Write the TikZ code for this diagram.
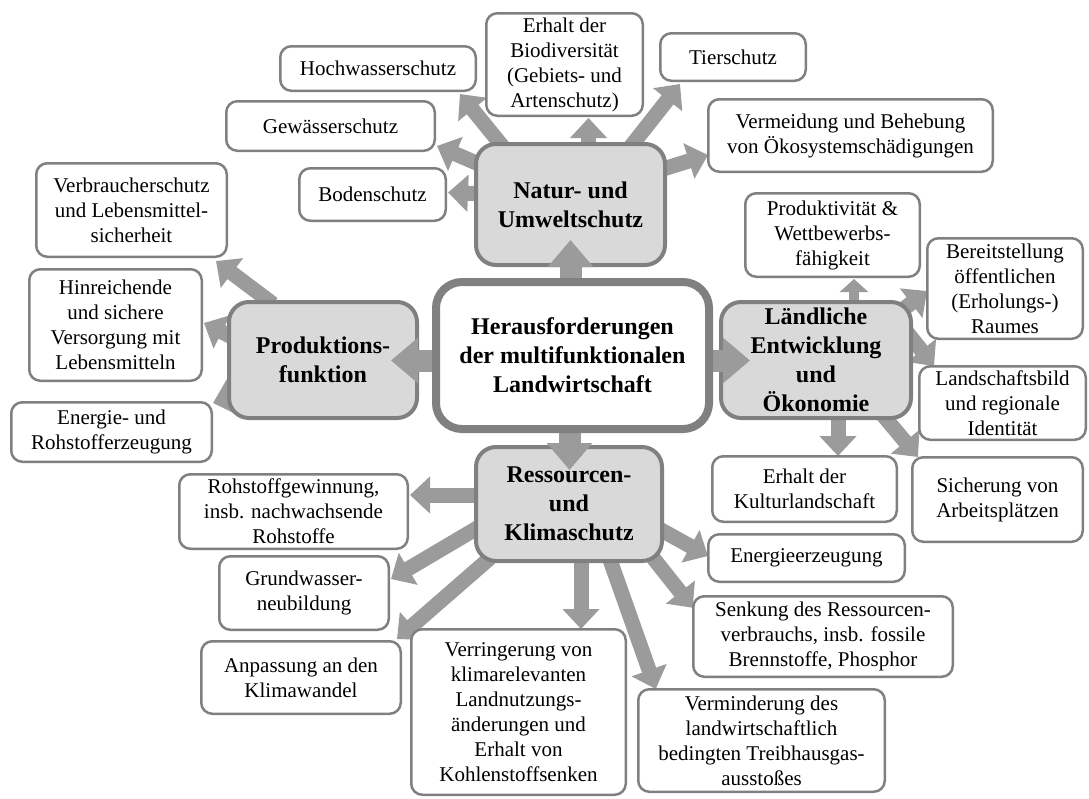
\documentclass[tikz,border=0pt]{standalone}
\usepackage{fontspec}
\setmainfont{Liberation Serif}
\usetikzlibrary{arrows.meta, calc, positioning}

\definecolor{boxline}{RGB}{128,128,128}
\definecolor{hubfill}{RGB}{217,217,217}
\definecolor{arrowfill}{RGB}{155,155,155}

\pgfdeclarelayer{backarrows}
\pgfdeclarelayer{hubs}
\pgfdeclarelayer{frontarrows}
\pgfsetlayers{backarrows,hubs,frontarrows,main}

\tikzset{
  item/.style={draw=boxline, line width=2.5pt, rounded corners=11pt, fill=white, align=center, inner sep=0pt, font=\fontsize{21}{25}\selectfont},
  hub/.style={draw=boxline, line width=4pt, rounded corners=20pt, fill=hubfill, align=center, inner sep=0pt, font=\fontsize{24}{29}\selectfont\bfseries},
  core/.style={hub, line width=8pt, rounded corners=26pt, fill=white},
  fatarrow/.style={draw=arrowfill, line width=15pt, -{Triangle[length=20pt,width=36pt]}},
  smallarrow/.style={draw=arrowfill, line width=10pt, -{Triangle[length=13pt,width=28pt]}},
  bigarrow/.style={draw=arrowfill, line width=22pt, -{Triangle[length=27pt,width=44pt]}}
}

\begin{document}
\begin{tikzpicture}[x=1pt, y=-1pt]
    \useasboundingbox (0,0) rectangle (1089,798);

    % centre and the four fields
    \node[core, minimum width=273, minimum height=147] (core) at (572.5, 355.5) {Herausforderungen\\der multifunktionalen\\Landwirtschaft};
    \begin{pgfonlayer}{hubs}
        \node[hub, minimum width=189, minimum height=121] (natur) at (570.5, 204.5) {Natur- und\\Umweltschutz};
        \node[hub, minimum width=188, minimum height=116] (produktion) at (323, 360) {Produktions-\\funktion};
        \node[hub, minimum width=190, minimum height=116] (laendlich) at (816, 360) {Ländliche\\Entwicklung\\und\\Ökonomie};
        \node[hub, minimum width=186, minimum height=114] (ressourcen) at (569, 504) {Ressourcen-\\und\\Klimaschutz};
    \end{pgfonlayer}

    % Natur- und Umweltschutz
    \node[item, minimum width=195.5, minimum height=44.5] (hoch) at (378, 68.5) {Hochwasserschutz};
    \node[item, minimum width=156.5, minimum height=102.5] (bio) at (564.5, 64.5) {Erhalt der\\Biodiversität\\(Gebiets- und\\Artenschutz)};
    \node[item, minimum width=145.5, minimum height=47.5] (tier) at (733, 57) {Tierschutz};
    \node[item, minimum width=208.5, minimum height=49.5] (gew) at (330.5, 126) {Gewässerschutz};
    \node[item, minimum width=284.5, minimum height=72.5] (oeko) at (850.5, 135.5) {Vermeidung und Behebung\\von Ökosystemschädigungen};
    \node[item, minimum width=146.5, minimum height=52.5] (boden) at (372.5, 194.5) {Bodenschutz};

    % Produktionsfunktion
    \node[item, minimum width=190.5, minimum height=93.5] (verb) at (131.5, 210) {Verbraucherschutz\\und Lebensmittel-\\sicherheit};
    \node[item, minimum width=172.5, minimum height=111.5] (vers) at (115.5, 325) {Hinreichende\\und sichere\\Versorgung mit\\Lebensmitteln};
    \node[item, minimum width=200.5, minimum height=59.5] (energie) at (111.5, 432) {Energie- und\\Rohstofferzeugung};

    % Ländliche Entwicklung und Ökonomie
    \node[item, minimum width=174.5, minimum height=83.5] (prod) at (832.5, 235) {Produktivität \&\\Wettbewerbs-\\fähigkeit};
    \node[item, minimum width=155.5, minimum height=100.5] (raum) at (1005, 288.5) {Bereitstellung\\öffentlichen\\(Erholungs-)\\Raumes};
    \node[item, minimum width=166.5, minimum height=73.5] (land) at (1002.5, 403) {Landschaftsbild\\und regionale\\Identität};
    \node[item, minimum width=184.5, minimum height=65.5] (kultur) at (804.5, 489) {Erhalt der\\Kulturlandschaft};
    \node[item, minimum width=170.5, minimum height=84.5] (arbeit) at (997.5, 499.5) {Sicherung von\\Arbeitsplätzen};

    % Ressourcen- und Klimaschutz
    \node[item, minimum width=228.5, minimum height=74.5] (rohst) at (293.5, 511.5) {Rohstoffgewinnung,\\insb. nachwachsende\\Rohstoffe};
    \node[item, minimum width=169.5, minimum height=73.5] (grund) at (304, 593) {Grundwasser-\\neubildung};
    \node[item, minimum width=196.5, minimum height=47.5] (eerz) at (806.5, 558) {Energieerzeugung};
    \node[item, minimum width=199.5, minimum height=72.5] (anpass) at (301, 677.5) {Anpassung an den\\Klimawandel};
    \node[item, minimum width=214.5, minimum height=165.5] (verr) at (518.5, 712) {Verringerung von\\klimarelevanten\\Landnutzungs-\\änderungen und\\Erhalt von\\Kohlenstoffsenken};
    \node[item, minimum width=259.5, minimum height=80.5] (senk) at (823, 636.5) {Senkung des Ressourcen-\\verbrauchs, insb. fossile\\Brennstoffe, Phosphor};
    \node[item, minimum width=246.5, minimum height=102.5] (vermin) at (761.5, 740.5) {Verminderung des\\landwirtschaftlich\\bedingten Treibhausgas-\\ausstoßes};

    % arrows from the centre
    \begin{pgfonlayer}{frontarrows}
        \draw[bigarrow] ($(core.north)+(-2,6)$) -- ($(natur.south)+(0,-27)$);
        \draw[bigarrow] ($(core.west)+(6,5)$) -- ($(produktion.east)+(-28,0.5)$);
        \draw[bigarrow] ($(core.east)+(-6,5)$) -- ($(laendlich.west)+(31,0.5)$);
        \draw[bigarrow] ($(core.south)+(-3,-6)$) -- ($(ressourcen.north)+(0.5,25)$);
    \end{pgfonlayer}

    % arrows from the fields
    \begin{pgfonlayer}{backarrows}
        \draw[fatarrow] ($(natur.north west)+(38,16)$) -- ($(hoch.south east)+(-17,2)$);
        \draw[fatarrow] ($(natur.west)+(14,-36.5)$) -- ($(gew.east)+(1,20)$);
        \draw[fatarrow] ($(natur.west)+(14,-10.5)$) -- ($(boden.east)+(1,-2)$);
        \draw[fatarrow] ($(natur.north)+(18,6)$) -- ($(bio.south)+(24,1)$);
        \draw[fatarrow] ($(natur.north east)+(-39,8)$) -- ($(tier.south west)+(21,2)$);
        \draw[fatarrow] ($(natur.east)+(-7,-34.5)$) -- ($(oeko.west)+(1,19.5)$);

        \draw[fatarrow] ($(produktion.north west)+(46,4)$) -- ($(verb.south east)+(-12,3)$);
        \draw[fatarrow] ($(produktion.west)+(11,-20)$) -- ($(vers.east)+(1,-2)$);
        \draw[fatarrow] ($(produktion.south west)+(9,-24)$) -- ($(energie.north east)+(0,2)$);

        \draw[smallarrow] ($(laendlich.north)+(38,8)$) -- ($(prod.south)+(21.5,1)$);
        \draw[fatarrow] ($(laendlich.north east)+(-16,14)$) -- ($(raum.west)+(1,2.5)$);
        \draw[fatarrow] ($(laendlich.east)+(-11,-34)$) -- ($(land.north west)+(16,1)$);
        \draw[fatarrow] ($(laendlich.south)+(22,-8)$) -- ($(kultur.north)+(33.5,1)$);
        \draw[fatarrow] ($(laendlich.south east)+(-31,-6)$) -- ($(arbeit.north west)+(7,1)$);

        \draw[fatarrow] ($(ressourcen.west)+(10,-9)$) -- ($(rohst.east)+(1,-16.5)$);
        \draw[fatarrow] ($(ressourcen.west)+(10,20)$) -- ($(grund.east)+(1,-14)$);
        \draw[fatarrow] ($(ressourcen.south west)+(16,-5)$) -- ($(anpass.north east)+(-5,-1)$);
        \draw[fatarrow] ($(ressourcen.south)+(12,-8)$) -- ($(verr.north)+(62.5,1)$);
        \draw[fatarrow] ($(ressourcen.south)+(40,-6)$) -- ($(vermin.north west)+(18.75,1)$);
        \draw[fatarrow] ($(ressourcen.south east)+(-14,-9)$) -- ($(senk.north west)+(0.75,12.75)$);
        \draw[fatarrow] ($(ressourcen.east)+(-10,22)$) -- ($(eerz.west)+(1,-2)$);
    \end{pgfonlayer}
\end{tikzpicture}
\end{document}
